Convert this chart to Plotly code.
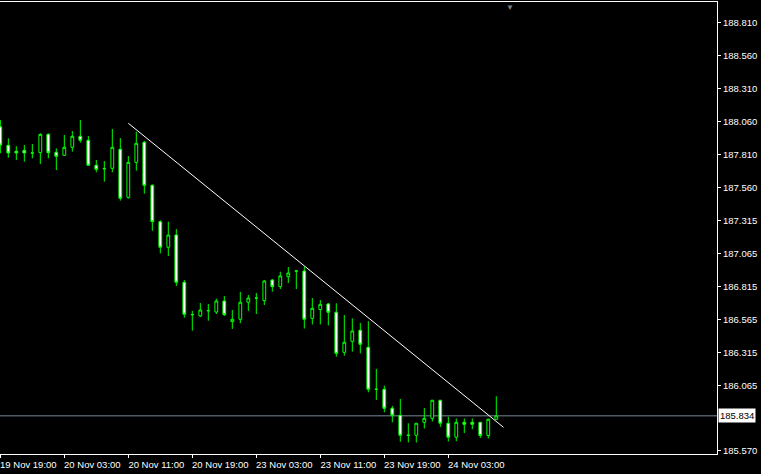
import plotly.graph_objects as go

# ---- data (hourly bars, index 0 = 19 Nov 19:00) ----
opens = [
    188.023, 187.882, 187.837, 187.844, 187.824, 187.826, 187.965, 187.829, 187.806, 187.867,
    187.950, 187.920, 187.731, 187.705, 187.708, 187.852, 187.488, 187.753, 187.905, 187.579,
    187.304, 187.110, 187.203, 186.845, 186.600, 186.590, 186.630, 186.620, 186.703, 186.547,
    186.565, 186.694, 186.726, 186.706, 186.862, 186.812, 186.887, 186.930, 186.930, 186.572,
    186.639, 186.681, 186.618, 186.315, 186.398, 186.482, 186.353, 186.035, 186.035, 185.891,
    185.838, 185.687, 185.687, 185.785, 185.815, 185.952, 185.778, 185.672, 185.785, 185.785,
    185.785, 185.685, 185.808]
highs = [
    188.074, 187.935, 187.875, 187.884, 187.892, 187.973, 187.973, 187.859, 187.960, 187.990,
    188.074, 187.953, 187.771, 187.763, 188.006, 187.937, 187.801, 187.985, 187.915, 187.587,
    187.314, 187.304, 187.248, 186.862, 186.628, 186.688, 186.681, 186.721, 186.741, 186.635,
    186.772, 186.749, 186.764, 186.862, 186.870, 186.925, 186.961, 186.938, 186.963, 186.726,
    186.711, 186.688, 186.686, 186.597, 186.572, 186.537, 186.550, 186.189, 186.062, 185.909,
    185.962, 185.778, 185.780, 185.893, 185.954, 185.954, 185.828, 185.814, 185.814, 185.814,
    185.787, 185.812, 185.982]
lows = [
    187.822, 187.788, 187.771, 187.758, 187.784, 187.741, 187.784, 187.695, 187.801, 187.834,
    187.902, 187.729, 187.678, 187.607, 187.678, 187.463, 187.478, 187.690, 187.516, 187.235,
    187.064, 187.044, 186.817, 186.577, 186.479, 186.582, 186.554, 186.605, 186.590, 186.492,
    186.535, 186.628, 186.605, 186.673, 186.774, 186.794, 186.840, 186.794, 186.495, 186.526,
    186.526, 186.518, 186.282, 186.289, 186.320, 186.307, 186.012, 185.954, 185.861, 185.784,
    185.638, 185.632, 185.632, 185.738, 185.791, 185.750, 185.640, 185.642, 185.704, 185.732,
    185.666, 185.663, 185.805]
closes = [
    187.884, 187.824, 187.824, 187.824, 187.824, 187.965, 187.826, 187.799, 187.867, 187.950,
    187.920, 187.731, 187.700, 187.705, 187.867, 187.481, 187.753, 187.897, 187.579, 187.304,
    187.110, 187.203, 186.845, 186.603, 186.600, 186.635, 186.630, 186.703, 186.600, 186.565,
    186.694, 186.726, 186.726, 186.855, 186.812, 186.893, 186.915, 186.930, 186.565, 186.648,
    186.678, 186.618, 186.307, 186.391, 186.476, 186.376, 186.035, 186.035, 185.891, 185.838,
    185.687, 185.687, 185.778, 185.815, 185.952, 185.778, 185.672, 185.785, 185.770, 185.770,
    185.685, 185.808, 185.834]
bars = list(range(len(opens)))

time_tick_idx = [0, 8, 16, 24, 32, 40, 48, 56]
time_tick_labels = ["19 Nov 19:00", "20 Nov 03:00", "20 Nov 11:00", "20 Nov 19:00",
                    "23 Nov 03:00", "23 Nov 11:00", "23 Nov 19:00", "24 Nov 03:00"]

price_ticks = [188.810, 188.560, 188.310, 188.060, 187.810, 187.560, 187.315,
               187.065, 186.815, 186.565, 186.315, 186.065, 185.570]
price_labels = ["%.3f" % v for v in price_ticks]

trend_x = [16, 62.9]
trend_y = [188.049, 185.747]

bid_price = 185.834

FONT = "Liberation Sans"

fig = go.Figure()
fig.add_trace(go.Candlestick(
    x=bars, open=opens, high=highs, low=lows, close=closes,
    increasing=dict(line=dict(color="#00FF00", width=1), fillcolor="#000000"),
    decreasing=dict(line=dict(color="#00FF00", width=1), fillcolor="#FFFFFF"),
    whiskerwidth=0, hoverinfo="skip", showlegend=False,
))
fig.add_trace(go.Scatter(
    x=trend_x, y=trend_y, mode="lines",
    line=dict(color="#FFFFFF", width=1), hoverinfo="skip", showlegend=False,
))

fig.add_shape(type="line", xref="paper", x0=0, x1=1, yref="y", y0=bid_price, y1=bid_price,
              line=dict(color="#778899", width=1), layer="below")
fig.add_annotation(xref="paper", x=1, yref="y", y=bid_price, text="%.3f" % bid_price,
                   showarrow=False, xanchor="left", yanchor="middle", xshift=1,
                   bgcolor="#FFFFFF", borderpad=1,
                   font=dict(family=FONT, size=9.5, color="#000000"))
fig.add_annotation(xref="paper", x=510 / 717, yref="paper", y=1, yanchor="top",
                   xshift=6, yshift=1,
                   text="▼", showarrow=False,
                   font=dict(family=FONT, size=8, color="#808080"))

fig.update_layout(
    width=761, height=474,
    margin=dict(l=0, r=44, t=2, b=20, autoexpand=False),
    paper_bgcolor="#000000", plot_bgcolor="#000000",
    boxgap=0.5,
    showlegend=False,
    font=dict(family=FONT, size=9.5, color="#FFFFFF"),
    xaxis=dict(
        range=[-0.04, 89.59], rangeslider=dict(visible=False),
        automargin=False,
        showgrid=False, zeroline=False,
        showline=True, mirror=True, linecolor="#FFFFFF", linewidth=1,
        tickmode="array", tickvals=time_tick_idx, ticktext=time_tick_labels,
        ticks="outside", ticklen=3, tickcolor="#FFFFFF", ticklabelshift=28,
        ticklabelstandoff=-1,
        tickfont=dict(family=FONT, size=9.5, color="#FFFFFF"),
    ),
    yaxis=dict(
        side="right", range=[185.545, 188.967],
        automargin=False,
        showgrid=False, zeroline=False,
        showline=True, linecolor="#FFFFFF", linewidth=1,
        tickmode="array", tickvals=price_ticks, ticktext=price_labels,
        ticks="outside", ticklen=3, tickcolor="#FFFFFF",
        tickfont=dict(family=FONT, size=9.5, color="#FFFFFF"),
    ),
)

fig.write_html(
    "out.html",
    config={"displayModeBar": False},
    post_script="document.body.style.margin='0';document.body.style.background='#000';"
                "document.body.style.overflow='hidden';",
)
